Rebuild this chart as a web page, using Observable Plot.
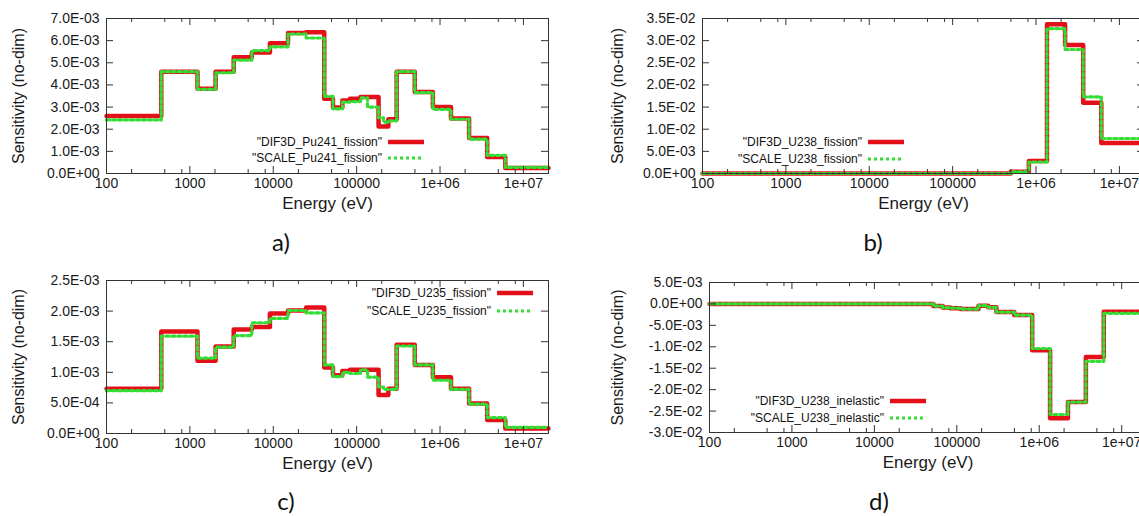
<!DOCTYPE html>
<html><head><meta charset="utf-8">
<script src="https://cdn.jsdelivr.net/npm/d3@7"></script>
<script src="https://cdn.jsdelivr.net/npm/@observablehq/plot@0.6"></script>
<style>
body{margin:0;background:#fff;}
#root{position:relative;width:1139px;height:516px;overflow:hidden;background:#fff;font-family:"Liberation Sans",Arial,sans-serif;color:#111;}
.panel{position:absolute;}
.cap{position:absolute;font-family:Lato,"Open Sans",sans-serif;font-size:24px;line-height:26px;transform:translate(-50%,-50%);color:#111;}
.leg{position:absolute;font-size:12px;line-height:12px;white-space:nowrap;}
.leg .row{position:absolute;right:0;display:flex;align-items:center;transform:translateY(-50%);}
</style></head><body><div id="root"></div>
<script>
// Energy group boundaries (eV), ascending
const energyEdges = [100, 454, 1234, 2035, 3355, 5531, 9119, 15034, 24788, 40868, 52000, 67379, 83000, 111090, 135000, 183160, 210000, 240000, 301970, 497870, 820850, 1353400, 2231300, 3678800, 6065300, 2e7];

// a) Pu241 fission
const difPu241 = [2.6e-3, 4.6e-3, 3.83e-3, 4.6e-3, 5.25e-3, 5.47e-3, 5.88e-3, 6.35e-3, 6.38e-3, 3.38e-3, 2.98e-3, 3.3e-3, 3.38e-3, 3.46e-3, 3.46e-3, 2.12e-3, 2.12e-3, 2.45e-3, 4.6e-3, 3.68e-3, 3.0e-3, 2.48e-3, 1.6e-3, 0.75e-3, 0.25e-3];
const scalePu241 = [2.42e-3, 4.6e-3, 3.8e-3, 4.55e-3, 5.12e-3, 5.55e-3, 5.72e-3, 6.3e-3, 6.12e-3, 3.48e-3, 2.92e-3, 3.22e-3, 3.25e-3, 3.42e-3, 3.0e-3, 2.52e-3, 2.32e-3, 2.38e-3, 4.6e-3, 3.65e-3, 2.9e-3, 2.45e-3, 1.55e-3, 0.82e-3, 0.28e-3];
// b) U238 fission
const difU238f = [0,0,0,0,0,0,0,0,0,0,0,0,0,0,0,0,0,0,0, 0.4e-3, 2.8e-3, 33.7e-3, 29.0e-3, 16.0e-3, 6.9e-3];
const scaleU238f = [0,0,0,0,0,0,0,0,0,0,0,0,0,0,0,0,0,0,0, 0.4e-3, 2.6e-3, 32.7e-3, 28.0e-3, 17.3e-3, 7.9e-3];
// c) U235 fission
const difU235 = [0.73e-3, 1.667e-3, 1.19e-3, 1.42e-3, 1.70e-3, 1.74e-3, 1.96e-3, 2.01e-3, 2.06e-3, 1.08e-3, 0.95e-3, 1.02e-3, 1.04e-3, 1.04e-3, 1.04e-3, 0.63e-3, 0.63e-3, 0.73e-3, 1.45e-3, 1.12e-3, 0.92e-3, 0.73e-3, 0.49e-3, 0.22e-3, 0.08e-3];
const scaleU235 = [0.70e-3, 1.59e-3, 1.23e-3, 1.41e-3, 1.60e-3, 1.81e-3, 1.88e-3, 2.01e-3, 1.97e-3, 1.12e-3, 0.93e-3, 1.00e-3, 0.98e-3, 1.04e-3, 0.92e-3, 0.76e-3, 0.72e-3, 0.72e-3, 1.43e-3, 1.12e-3, 0.87e-3, 0.72e-3, 0.48e-3, 0.26e-3, 0.10e-3];
// d) U238 inelastic
const difU238i = [0,0,0,0,0,0,0,0,0,0, -0.5e-3, -0.85e-3, -1.0e-3, -1.2e-3, -1.2e-3, -0.4e-3, -0.4e-3, -0.8e-3, -1.9e-3, -2.6e-3, -10.8e-3, -26.7e-3, -22.9e-3, -12.4e-3, -1.8e-3];
const scaleU238i = [0,0,0,0,0,0,0,0,0,0, -0.5e-3, -0.85e-3, -1.0e-3, -1.2e-3, -1.2e-3, -0.4e-3, -0.4e-3, -0.8e-3, -1.9e-3, -2.6e-3, -10.4e-3, -25.8e-3, -22.9e-3, -13.4e-3, -2.2e-3];

const xTickValues = [100, 1000, 1e4, 1e5, 1e6, 1e7];
const xTickLabels = ["100", "1000", "10000", "100000", "1e+06", "1e+07"];
const xMinorTicks = [200, 500, 800, 2000, 5000, 8000, 2e4, 5e4, 8e4, 2e5, 5e5, 8e5, 2e6, 5e6, 8e6];

const yTicksA = [0, 1e-3, 2e-3, 3e-3, 4e-3, 5e-3, 6e-3, 7e-3];
const yLabelsA = ["0.0E+00","1.0E-03","2.0E-03","3.0E-03","4.0E-03","5.0E-03","6.0E-03","7.0E-03"];
const yTicksB = [0, 0.005, 0.01, 0.015, 0.02, 0.025, 0.03, 0.035];
const yLabelsB = ["0.0E+00","5.0E-03","1.0E-02","1.5E-02","2.0E-02","2.5E-02","3.0E-02","3.5E-02"];
const yTicksC = [0, 0.0005, 0.001, 0.0015, 0.002, 0.0025];
const yLabelsC = ["0.0E+00","5.0E-04","1.0E-03","1.5E-03","2.0E-03","2.5E-03"];
const yTicksD = [-0.03, -0.025, -0.02, -0.015, -0.01, -0.005, 0, 0.005];
const yLabelsD = ["-3.0E-02","-2.5E-02","-2.0E-02","-1.5E-02","-1.0E-02","-5.0E-03","0.0E+00","5.0E-03"];

const RED = "#e3101a", GREEN = "#33dd33", INK = "#1a1a1a";

function series(vals) {
  return energyEdges.map((e, i) => ({E: e, v: vals[Math.min(i, vals.length - 1)]}));
}

function panel(cfg) {
  const {left, top, width, height, ml, mr, mt, mb, yTicks, yLabels, yDomain, red, green, titleDx} = cfg;
  const pw = width - ml - mr, ph = height - mt - mb;
  const yMap = new Map(yTicks.map((t, i) => [t, yLabels[i]]));
  const xMap = new Map(xTickValues.map((t, i) => [t, xTickLabels[i]]));
  const svg = Plot.plot({
    width, height, marginLeft: ml, marginRight: mr, marginTop: mt, marginBottom: mb,
    x: {type: "log", domain: [100, 2e7]},
    y: {domain: yDomain},
    style: {fontFamily: "'Liberation Sans', Arial, sans-serif", fontSize: "14px", color: INK, background: "transparent", overflow: "visible"},
    marks: [
      Plot.line(series(red), {x: "E", y: "v", curve: "step-after", stroke: RED, strokeWidth: 4.5}),
      Plot.line(series(green), {x: "E", y: "v", curve: "step-after", stroke: GREEN, strokeWidth: 3.2, strokeDasharray: "3,3"}),
      Plot.tickX(xMinorTicks, {x: d => d, insetTop: ph - 4, stroke: "#333"}),
      Plot.tickX(xMinorTicks, {x: d => d, insetBottom: ph - 4, stroke: "#333"}),
      Plot.tickX(xTickValues, {x: d => d, insetTop: ph - 7, stroke: "#333"}),
      Plot.tickX(xTickValues, {x: d => d, insetBottom: ph - 7, stroke: "#333"}),
      Plot.tickY(yTicks, {y: d => d, insetRight: pw - 7, stroke: "#333"}),
      Plot.tickY(yTicks, {y: d => d, insetLeft: pw - 7, stroke: "#333"}),
      Plot.frame({stroke: "#333"}),
      Plot.axisX(xTickValues, {tickSize: 0, tickPadding: 5, tickFormat: d => xMap.get(d), label: null, fill: INK}),
      Plot.axisY(yTicks, {tickSize: 0, tickPadding: 7, tickFormat: d => yMap.get(d), label: null, fill: INK}),
      Plot.text(["Energy (eV)"], {frameAnchor: "bottom", dy: 30, lineAnchor: "middle", textAnchor: "middle", fontSize: 17, fill: INK}),
      Plot.text(["Sensitivity (no-dim)"], {frameAnchor: "left", rotate: -90, dx: titleDx, textAnchor: "middle", lineAnchor: "middle", fontSize: 16, fill: INK})
    ]
  });
  svg.classList.add("panel");
  svg.style.left = left + "px";
  svg.style.top = top + "px";
  return svg;
}

function legend(cfg) {
  const div = document.createElement("div");
  div.className = "leg";
  div.style.left = "0px"; div.style.top = "0px";
  div.style.width = cfg.right + "px";
  div.style.height = "0px";
  const rows = [[cfg.labels[0], RED, 4.5, null, cfg.y1], [cfg.labels[1], GREEN, 3.2, "3,3", cfg.y2]];
  for (const [txt, col, sw, dash, y] of rows) {
    const r = document.createElement("div");
    r.className = "row";
    r.style.top = y + "px";
    const s = document.createElement("span");
    s.textContent = txt;
    s.style.marginRight = "6px";
    r.appendChild(s);
    const ns = "http://www.w3.org/2000/svg";
    const sv = document.createElementNS(ns, "svg");
    sv.setAttribute("width", 36); sv.setAttribute("height", 8);
    const ln = document.createElementNS(ns, "line");
    ln.setAttribute("x1", 0); ln.setAttribute("x2", 36); ln.setAttribute("y1", 4); ln.setAttribute("y2", 4);
    ln.setAttribute("stroke", col); ln.setAttribute("stroke-width", sw);
    if (dash) ln.setAttribute("stroke-dasharray", dash);
    sv.appendChild(ln);
    r.appendChild(sv);
    div.appendChild(r);
  }
  return div;
}

const root = document.getElementById("root");
root.appendChild(panel({left: 0, top: 0, width: 570, height: 218, ml: 106, mr: 22, mt: 18, mb: 45,
  yTicks: yTicksA, yLabels: yLabelsA, yDomain: [0, 0.007], red: difPu241, green: scalePu241, titleDx: -88}));
root.appendChild(panel({left: 570, top: 0, width: 590, height: 218, ml: 132, mr: 16, mt: 18, mb: 45,
  yTicks: yTicksB, yLabels: yLabelsB, yDomain: [0, 0.035], red: difU238f, green: scaleU238f, titleDx: -85}));
root.appendChild(panel({left: 0, top: 250, width: 570, height: 228, ml: 106, mr: 22, mt: 30, mb: 45,
  yTicks: yTicksC, yLabels: yLabelsC, yDomain: [0, 0.0025], red: difU235, green: scaleU235, titleDx: -88}));
root.appendChild(panel({left: 570, top: 250, width: 590, height: 228, ml: 139, mr: 14, mt: 32, mb: 46,
  yTicks: yTicksD, yLabels: yLabelsD, yDomain: [-0.03, 0.005], red: difU238i, green: scaleU238i, titleDx: -92}));

root.appendChild(legend({right: 424, y1: 142, y2: 158, labels: ['"DIF3D_Pu241_fission"', '"SCALE_Pu241_fission"']}));
root.appendChild(legend({right: 904, y1: 142, y2: 159, labels: ['"DIF3D_U238_fission"', '"SCALE_U238_fission"']}));
root.appendChild(legend({right: 533, y1: 293, y2: 311, labels: ['"DIF3D_U235_fission"', '"SCALE_U235_fission"']}));
root.appendChild(legend({right: 926, y1: 401, y2: 418, labels: ['"DIF3D_U238_inelastic"', '"SCALE_U238_inelastic"']}));

const caps = [["a)", 281, 242], ["b)", 873, 242], ["c)", 286, 501], ["d)", 879, 501]];
for (const [t, x, y] of caps) {
  const c = document.createElement("div");
  c.className = "cap"; c.textContent = t;
  c.style.left = x + "px"; c.style.top = y + "px";
  root.appendChild(c);
}
</script></body></html>
